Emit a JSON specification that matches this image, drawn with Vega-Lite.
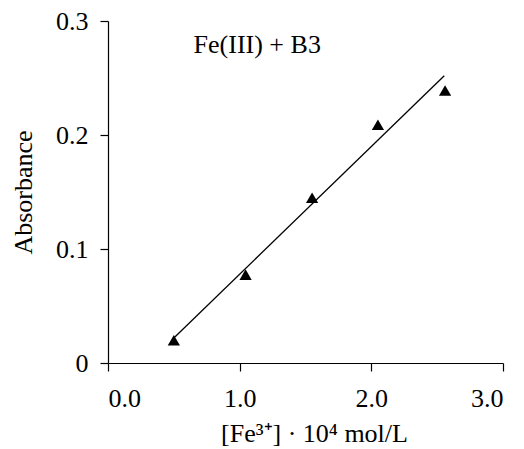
{
  "$schema": "https://vega.github.io/schema/vega-lite/v6.json",
  "width": 395,
  "height": 342,
  "autosize": {"type": "none"},
  "padding": {"left": 108, "top": 21, "right": 21, "bottom": 86},
  "background": "white",
  "config": {
    "view": {"stroke": null},
    "font": "Liberation Serif",
    "axis": {
      "grid": false,
      "domainColor": "black",
      "domainWidth": 1.2,
      "tickColor": "black",
      "tickWidth": 1.2,
      "tickSize": 8,
      "labelFont": "Liberation Serif",
      "labelFontSize": 26,
      "labelColor": "black",
      "titleFont": "Liberation Serif",
      "titleFontSize": 26,
      "titleFontWeight": "normal",
      "titleColor": "black"
    }
  },
  "datasets": {
    "points": [
      {"conc": 0.5, "abs": 0.02},
      {"conc": 1.045, "abs": 0.0775},
      {"conc": 1.55, "abs": 0.145},
      {"conc": 2.05, "abs": 0.209},
      {"conc": 2.56, "abs": 0.239}
    ],
    "fit": [
      {"conc": 0.5, "abs": 0.0219},
      {"conc": 2.554, "abs": 0.252}
    ],
    "note": [
      {"conc": 0.65, "abs": 0.279, "label": "Fe(III) + B3"}
    ]
  },
  "layer": [
    {
      "data": {"name": "fit"},
      "mark": {"type": "line", "color": "black", "strokeWidth": 1.3},
      "encoding": {
        "x": {
          "field": "conc", "type": "quantitative",
          "scale": {"domain": [0, 3], "nice": false, "zero": true},
          "axis": {
            "values": [0, 1, 2, 3],
            "format": ".1f",
            "labelPadding": 14,
            "title": "[Fe³⁺] · 10⁴ mol/L",
            "titleX": 206,
            "titleY": 78,
            "titleBaseline": "alphabetic",
            "titleAnchor": "middle"
          }
        },
        "y": {
          "field": "abs", "type": "quantitative",
          "scale": {"domain": [0, 0.3], "nice": false},
          "axis": {
            "values": [0, 0.1, 0.2, 0.3],
            "labelExpr": "datum.value == 0 ? '0' : format(datum.value, '.1f')",
            "labelPadding": 12,
            "title": "Absorbance",
            "titleX": -85,
            "titleY": 171,
            "titleAlign": "center",
            "titleBaseline": "middle",
            "titleAngle": -90
          }
        }
      }
    },
    {
      "data": {"name": "points"},
      "mark": {"type": "point", "shape": "triangle-up", "filled": true, "color": "black", "size": 150, "opacity": 1},
      "encoding": {
        "x": {"field": "conc", "type": "quantitative"},
        "y": {"field": "abs", "type": "quantitative"}
      }
    },
    {
      "data": {"name": "note"},
      "mark": {"type": "text", "align": "left", "baseline": "middle", "font": "Liberation Serif", "fontSize": 26, "color": "black"},
      "encoding": {
        "x": {"field": "conc", "type": "quantitative"},
        "y": {"field": "abs", "type": "quantitative"},
        "text": {"field": "label"}
      }
    }
  ]
}
